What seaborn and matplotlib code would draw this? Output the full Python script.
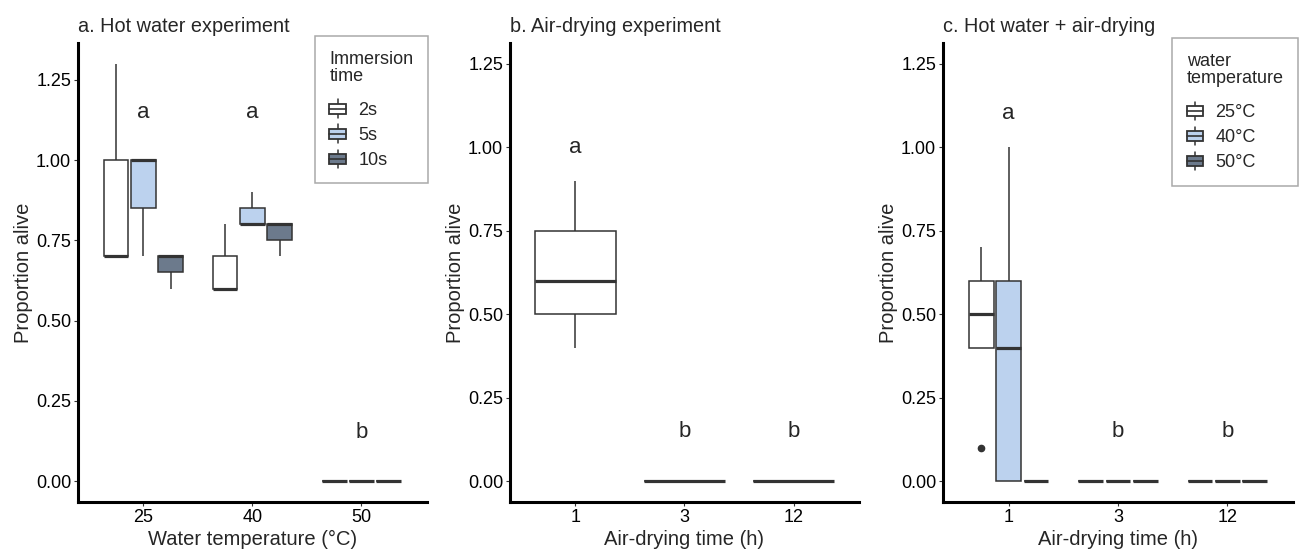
import numpy as np
import pandas as pd
import matplotlib
matplotlib.use("Agg")
import matplotlib.pyplot as plt
import matplotlib.patches as mpatches
import matplotlib.lines as mlines
from matplotlib.legend_handler import HandlerBase
import seaborn as sns

# a. hot water experiment: proportion alive per replicate (2s, 5s, 10s)
water_temps = ["25", "40", "50"]
immersion_times = ["2s", "5s", "10s"]
hot_25 = [[0.7, 0.7, 0.7, 1.0, 1.3], [0.7, 0.85, 1.0, 1.0, 1.0], [0.6, 0.65, 0.7, 0.7, 0.7]]
hot_40 = [[0.6, 0.6, 0.6, 0.7, 0.8], [0.8, 0.8, 0.8, 0.85, 0.9], [0.7, 0.75, 0.8, 0.8, 0.8]]
hot_50 = [[0.0, 0.0, 0.0, 0.0, 0.0], [0.0, 0.0, 0.0, 0.0, 0.0], [0.0, 0.0, 0.0, 0.0, 0.0]]
hot_letters = ["a", "a", "b"]
hot_letter_y = [1.15, 1.15, 0.15]

# b. air-drying experiment
dry_times = ["1", "3", "12"]
dry_1 = [0.4, 0.5, 0.6, 0.75, 0.9]
dry_3 = [0.0, 0.0, 0.0, 0.0, 0.0]
dry_12 = [0.0, 0.0, 0.0, 0.0, 0.0]
dry_letters = ["a", "b", "b"]
dry_letter_y = [1.0, 0.15, 0.15]

# c. hot water + air-drying (25, 40, 50 degC)
combo_temps = ["25°C", "40°C", "50°C"]
combo_1 = [[0.1, 0.4, 0.5, 0.6, 0.7], [0.0, 0.0, 0.4, 0.6, 1.0], [0.0, 0.0, 0.0, 0.0, 0.0]]
combo_3 = [[0.0, 0.0, 0.0, 0.0, 0.0], [0.0, 0.0, 0.0, 0.0, 0.0], [0.0, 0.0, 0.0, 0.0, 0.0]]
combo_12 = [[0.0, 0.0, 0.0, 0.0, 0.0], [0.0, 0.0, 0.0, 0.0, 0.0], [0.0, 0.0, 0.0, 0.0, 0.0]]
combo_letters = ["a", "b", "b"]
combo_letter_y = [1.1, 0.15, 0.15]

fills = ["#FFFFFF", "#BCD2EE", "#6C7A8C"]
edge = "#333333"


def long_table(groups, xs, hues, xname, hname):
    rows = []
    for x, per_hue in zip(xs, groups):
        for h, vals in zip(hues, per_hue):
            for v in vals:
                rows.append({xname: x, hname: h, "alive": v})
    return pd.DataFrame(rows)


hot_df = long_table([hot_25, hot_40, hot_50], water_temps, immersion_times, "temp", "time")
combo_df = long_table([combo_1, combo_3, combo_12], dry_times, combo_temps, "dry", "temp")
dry_df = pd.DataFrame({"dry": np.repeat(dry_times, 5), "alive": dry_1 + dry_3 + dry_12})


class BoxGlyph(HandlerBase):
    # ggplot-like little boxplot key
    def create_artists(self, legend, orig_handle, xdescent, ydescent,
                       width, height, fontsize, trans):
        x0, y0 = -xdescent, -ydescent
        cx = x0 + width / 2
        lo, hi = y0 + 0.22 * height, y0 + 0.78 * height
        rect = mpatches.Rectangle((x0, lo), width, hi - lo, facecolor=orig_handle.get_facecolor(),
                                  edgecolor=edge, linewidth=1.3, transform=trans)
        med = mlines.Line2D([x0, x0 + width], [(lo + hi) / 2] * 2, color=edge, lw=1.2, transform=trans)
        w1 = mlines.Line2D([cx, cx], [y0 - 0.02 * height, lo], color=edge, lw=1.1, transform=trans)
        w2 = mlines.Line2D([cx, cx], [hi, y0 + 1.02 * height], color=edge, lw=1.1, transform=trans)
        return [w1, w2, rect, med]


sns.set_style("ticks")
plt.rcParams["font.family"] = ["Liberation Sans", "DejaVu Sans"]

fig = plt.figure(figsize=(13.08, 5.49), dpi=100)
rects = [[0.0596, 0.0856, 0.2668, 0.8361],
         [0.3899, 0.0856, 0.2668, 0.8361],
         [0.7210, 0.0856, 0.2676, 0.8361]]
axes = [fig.add_axes(r) for r in rects]

box_kw = dict(saturation=1, linecolor=edge, linewidth=1.1, showcaps=False,
              medianprops={"linewidth": 2.3, "color": edge},
              flierprops={"marker": "o", "markersize": 4.5, "markerfacecolor": edge,
                          "markeredgecolor": edge})

sns.boxplot(data=hot_df, x="temp", y="alive", hue="time", order=water_temps,
            hue_order=immersion_times, palette=fills, width=0.75, gap=0.1,
            legend=False, ax=axes[0], **box_kw)
sns.boxplot(data=dry_df, x="dry", y="alive", order=dry_times, color="white",
            width=0.75, ax=axes[1], **box_kw)
sns.boxplot(data=combo_df, x="dry", y="alive", hue="temp", order=dry_times,
            hue_order=combo_temps, palette=fills, width=0.75, gap=0.1,
            legend=False, ax=axes[2], **box_kw)

titles = ["a. Hot water experiment", "b. Air-drying experiment", "c. Hot water + air-drying"]
xlabels = ["Water temperature (°C)", "Air-drying time (h)", "Air-drying time (h)"]
letters = [hot_letters, dry_letters, combo_letters]
letter_y = [hot_letter_y, dry_letter_y, combo_letter_y]
ylims = [(-0.065, 1.365), (-0.0625, 1.3125), (-0.0625, 1.3125)]

for ax, title, xl, lets, ly, yl in zip(axes, titles, xlabels, letters, letter_y, ylims):
    ax.set_xlim(-0.6, 2.6)
    ax.set_ylim(*yl)
    ax.set_yticks([0, 0.25, 0.5, 0.75, 1.0, 1.25])
    ax.set_yticklabels(["0.00", "0.25", "0.50", "0.75", "1.00", "1.25"])
    ax.set_title(title, loc="left", fontsize=14.3, pad=8)
    ax.set_xlabel(xl, fontsize=14.5, labelpad=3)
    ax.set_ylabel("Proportion alive", fontsize=14.5, labelpad=2)
    for i, (t, y) in enumerate(zip(lets, ly)):
        ax.text(i, y, t, ha="center", va="center", fontsize=16)
    sns.despine(ax=ax)
    for s in ["left", "bottom"]:
        ax.spines[s].set_linewidth(2.2)
        ax.spines[s].set_color("black")
    ax.tick_params(length=3, width=0.8, color=edge, labelsize=13, labelcolor="black", pad=2)

leg_kw = dict(handler_map={mpatches.Patch: BoxGlyph()}, loc="upper right", fontsize=13,
              title_fontsize=13, alignment="left", frameon=True, fancybox=False,
              edgecolor="#AAAAAA", framealpha=1, handlelength=0.9, handleheight=1.15,
              handletextpad=0.7, labelspacing=0.33, borderpad=0.8, borderaxespad=0)

handles = [mpatches.Patch(facecolor=c, edgecolor=edge) for c in fills]
leg_a = axes[0].legend(handles, immersion_times, title="Immersion\ntime",
                       bbox_to_anchor=(1.003, 1.015), **leg_kw)
leg_c = axes[2].legend(handles, combo_temps, title="water\ntemperature",
                       bbox_to_anchor=(1.014, 1.01), **leg_kw)
for leg in (leg_a, leg_c):
    leg.get_frame().set_linewidth(1.1)
    leg.get_title().set_linespacing(1.0)
    leg._legend_box.sep = 11  # gap between the key title and the entries

fig.savefig("out.png", dpi=100)
